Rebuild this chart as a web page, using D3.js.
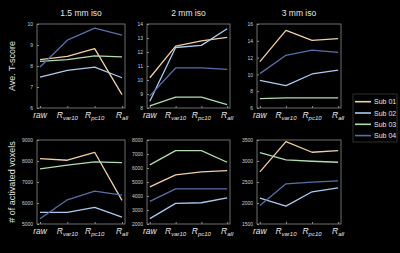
<!DOCTYPE html>
<html>
<head>
<meta charset="utf-8">
<script src="https://cdn.jsdelivr.net/npm/d3@7"></script>
<style>
  html, body { margin: 0; padding: 0; background: #000; }
  svg { display: block; font-family: "Liberation Sans", Arial, sans-serif; }
</style>
</head>
<body>
<div id="chart"></div>
<script>
// subjects and x categories
const subjects = ['Sub 01', 'Sub 02', 'Sub 03', 'Sub 04'];
const methods = [
    { base: 'raw', sub: '' },
    { base: 'R', sub: 'var10' },
    { base: 'R', sub: 'pc10' },
    { base: 'R', sub: 'all' }
];
const colors = ['#f2d09c', '#a9cbef', '#b0dcae', '#5a6ea8'];

// values per subject (Sub 01..04)
const tscore15 = [
    [8.30, 8.46, 8.83, 6.64],
    [7.47, 7.79, 7.95, 7.44],
    [8.22, 8.30, 8.48, 8.43],
    [7.95, 9.23, 9.80, 9.47]
];
const tscore20 = [
    [10.16, 12.42, 12.80, 13.04],
    [8.48, 12.32, 12.47, 13.66],
    [8.15, 8.77, 8.77, 8.24],
    [8.87, 10.86, 10.86, 10.76]
];
const tscore30 = [
    [11.52, 15.25, 14.06, 14.25],
    [9.29, 8.66, 10.05, 10.52],
    [7.12, 7.20, 7.20, 7.20],
    [10.09, 12.27, 12.90, 12.63]
];
const voxels15 = [
    [8115, 8036, 8415, 6123],
    [5553, 5553, 5790, 5332],
    [7625, 7800, 7960, 7925],
    [5253, 6154, 6565, 6375]
];
const voxels20 = [
    [4656, 5510, 5724, 5818],
    [2380, 3470, 3518, 3873],
    [6222, 7241, 7241, 6411],
    [3613, 4514, 4514, 4514]
];
const voxels30 = [
    [2741, 3460, 3208, 3247],
    [2117, 1927, 2267, 2362],
    [3200, 3026, 2994, 2970],
    [1943, 2457, 2496, 2528]
];

const titles = ['1.5 mm iso', '2 mm iso', '3 mm iso'];
const yLabels = ['Ave. T-score', '# of activated voxels'];

// y ticks per panel
const yTicks = [
    [6, 7, 8, 9, 10],
    [8, 9, 10, 11, 12, 13, 14],
    [6, 8, 10, 12, 14, 16],
    [5000, 6000, 7000, 8000, 9000],
    [2000, 3000, 4000, 5000, 6000, 7000, 8000],
    [1500, 2000, 2500, 3000, 3500]
];

const panels = [tscore15, tscore20, tscore30, voxels15, voxels20, voxels30];

const width = 400, height = 253;
const colX = [[37, 125], [147, 230], [257, 341]];
const rowY = [[24, 108], [140, 224]];

const svg = d3.select('#chart')
    .append('svg')
    .attr('width', width)
    .attr('height', height);

svg.append('rect').attr('width', width).attr('height', height).attr('fill', '#000');

panels.forEach(function(data, i) {
    const col = i % 3, row = Math.floor(i / 3);
    const ticks = yTicks[i];
    const x = d3.scaleLinear().domain([0.89, 4.11]).range(colX[col]);
    const y = d3.scaleLinear().domain([ticks[0], ticks[ticks.length - 1]]).range([rowY[row][1], rowY[row][0]]);
    const g = svg.append('g').attr('class', 'panel');

    // frame
    g.append('rect')
        .attr('x', colX[col][0]).attr('y', rowY[row][0])
        .attr('width', colX[col][1] - colX[col][0])
        .attr('height', rowY[row][1] - rowY[row][0])
        .attr('fill', 'none')
        .attr('stroke', '#8a8a8a')
        .attr('stroke-width', 0.8);

    // y axis (ticks inward)
    const yAxis = d3.axisLeft(y).tickValues(ticks).tickFormat(d3.format('d'))
        .tickSizeInner(-2).tickSizeOuter(0).tickPadding(4);
    const ya = g.append('g').attr('transform', `translate(${colX[col][0]},0)`).call(yAxis);
    ya.select('.domain').remove();
    ya.selectAll('line').attr('stroke', '#8a8a8a');
    ya.selectAll('text').attr('fill', '#cfcfcf').style('font-size', '5px');

    // x ticks inward
    const xa = g.append('g').attr('transform', `translate(0,${rowY[row][1]})`)
        .call(d3.axisBottom(x).tickValues([1, 2, 3, 4]).tickSizeInner(-2).tickSizeOuter(0).tickFormat(''));
    xa.select('.domain').remove();
    xa.selectAll('line').attr('stroke', '#8a8a8a');

    // x tick labels with subscripts
    const labels = g.selectAll('text.xlab')
        .data(methods)
        .join('text')
        .attr('class', 'xlab')
        .attr('x', function(d, j) { return x(j + 1); })
        .attr('y', rowY[row][1] + 10)
        .attr('text-anchor', 'middle')
        .attr('fill', '#e6e6e6')
        .style('font-style', 'italic')
        .style('font-size', '8.5px');
    labels.append('tspan').text(function(d) { return d.base; });
    labels.append('tspan')
        .attr('dy', 1.5)
        .style('font-size', '6px')
        .text(function(d) { return d.sub; });

    // lines
    const line = d3.line()
        .x(function(d, j) { return x(j + 1); })
        .y(function(d) { return y(d); });
    g.selectAll('path.series')
        .data(data)
        .join('path')
        .attr('class', 'series')
        .attr('d', line)
        .attr('fill', 'none')
        .attr('stroke', function(d, k) { return colors[k]; })
        .attr('stroke-width', 1.3)
        .attr('stroke-linejoin', 'round');

    if (row === 0) {
        svg.append('text')
            .attr('x', (colX[col][0] + colX[col][1]) / 2)
            .attr('y', 16)
            .attr('text-anchor', 'middle')
            .attr('fill', '#e6e6e6')
            .style('font-size', '8.5px')
            .text(titles[col]);
    }
});

// y axis titles
yLabels.forEach(function(t, r) {
    const cy = (rowY[r][0] + rowY[r][1]) / 2;
    svg.append('text')
        .attr('transform', `translate(15,${cy}) rotate(-90)`)
        .attr('text-anchor', 'middle')
        .attr('fill', '#e0e0e0')
        .style('font-size', '9px')
        .text(t);
});

// legend
const legend = svg.append('g').attr('transform', 'translate(353,94)');
legend.append('rect')
    .attr('width', 44).attr('height', 48)
    .attr('fill', '#000')
    .attr('stroke', '#3a3a3a')
    .attr('stroke-width', 0.8);
subjects.forEach(function(s, k) {
    const ly = 7.7 + k * 11.3;
    legend.append('line')
        .attr('x1', 2).attr('x2', 18)
        .attr('y1', ly).attr('y2', ly)
        .attr('stroke', colors[k])
        .attr('stroke-width', 1.6);
    legend.append('text')
        .attr('x', 21).attr('y', ly + 2.5)
        .attr('fill', '#e6e6e6')
        .style('font-size', '7px')
        .text(s);
});
</script>
</body>
</html>
